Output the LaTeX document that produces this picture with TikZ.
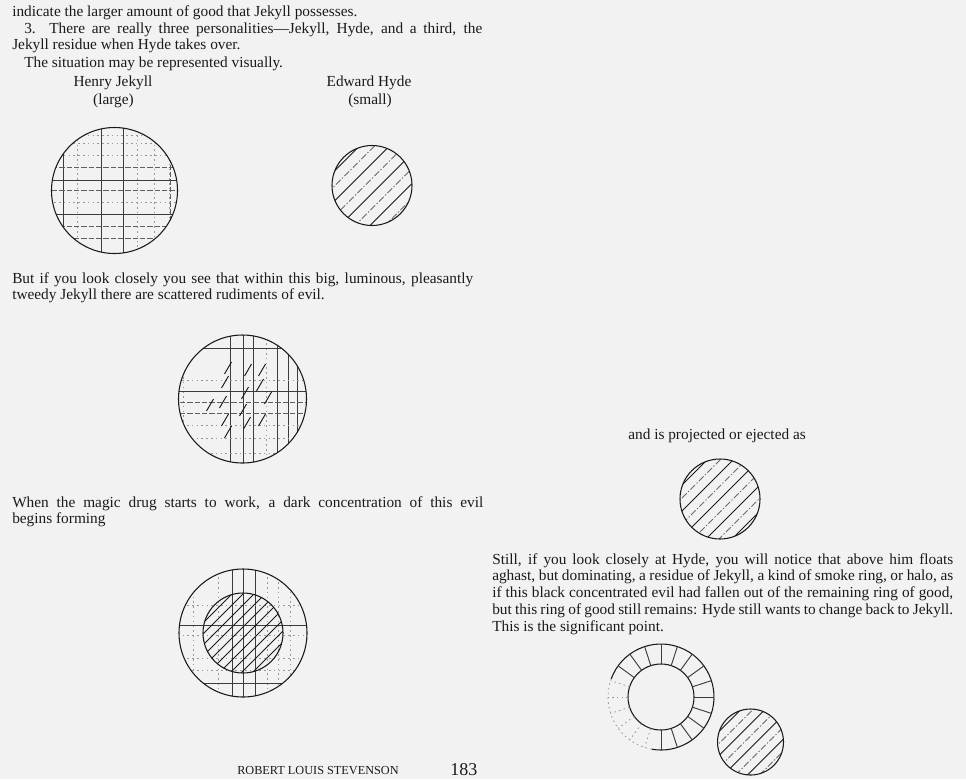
\documentclass[tikz,border=0pt]{standalone}
\usepackage{fontspec}
\setmainfont{Liberation Serif}
\definecolor{paper}{HTML}{F2F2F2}
\definecolor{inkgray}{HTML}{1A1A1A}
\tikzset{
  body/.style={anchor=base west, inner sep=0pt, text=inkgray,
    font=\fontsize{11.5}{12.6}\selectfont},
  para/.style={body, text width=#1, align=justify},
  caption/.style={body, anchor=base},
  rim/.style={line width=0.8pt, inkgray},
  fullrule/.style={line width=0.7pt, inkgray!85},
  dashrule/.style={line width=0.6pt, inkgray!70, dash pattern=on 4pt off 1.5pt},
  dotrule/.style={line width=0.6pt, inkgray!45, dash pattern=on 1.2pt off 2.4pt},
  hatchline/.style={line width=0.7pt, inkgray},
  hatchfaint/.style={line width=0.6pt, inkgray!65, dash pattern=on 5pt off 1.5pt on 1pt off 1.5pt},
}
\begin{document}
\begin{tikzpicture}[x=0.75pt, y=-0.75pt]
    \useasboundingbox (0,0) rectangle (966,779);
    \fill[paper] (0,0) rectangle (966,779);
    % Left column text
    \node[body] (prev) at (12,16) {indicate the larger amount of good that Jekyll possesses.};
    \node[para=352.5pt] (three) at (12,33) {\hspace*{9pt}3. There are really three personalities---Jekyll, Hyde, and a third, the\linebreak Jekyll residue when Hyde takes over.};
    \node[body] (visual) at (24,67) {The situation may be represented visually.};
    \node[caption] (jekyllname) at (113,86) {Henry Jekyll};
    \node[caption] (jekyllsize) at (113.5,104) {(large)};
    \node[caption] (hydename) at (369,86) {Edward Hyde};
    \node[caption] (hydesize) at (370,104) {(small)};
    % Jekyll (large): grid of good
    \begin{scope}[shift={(114.5,190.5)}]
        \def\R{63}
        \begin{scope}
            \clip (0,0) circle (\R);
            \foreach \x in {-37,23,40,55} \draw[dotrule] (\x,-70) -- (\x,70);
            \foreach \x in {-51.5,-13.5,8.5} \draw[fullrule] (\x,-70) -- (\x,70);
            \draw[dashrule] (56,-70) -- (56,70);
            \foreach \y in {-55.5,-47.5,-35.5,11.5} \draw[dotrule] (-70,\y) -- (70,\y);
            \foreach \y in {-23.5,-0.5,35.5,47.5} \draw[dashrule] (-70,\y) -- (70,\y);
            \foreach \y in {-10.5,23.5} \draw[fullrule] (-70,\y) -- (70,\y);
        \end{scope}
        \draw[rim] (0,0) circle (\R);
    \end{scope}
    % Hyde (small): hatched evil
    \begin{scope}[shift={(372,185.5)}]
        \def\R{40}
        \begin{scope}
            \clip (0,0) circle (\R);
            \foreach \d [count=\i] in {-52,-37,...,53} {
                \ifodd\i \draw[hatchline] (\d-50,50) -- (\d+50,-50);
                \else \draw[hatchfaint] (\d-50,50) -- (\d+50,-50); \fi
            }
        \end{scope}
        \draw[rim] (0,0) circle (\R);
    \end{scope}
    \node[para=345.75pt] (closely) at (12,283) {But if you look closely you see that within this big, luminous, pleasantly\linebreak tweedy Jekyll there are scattered rudiments of evil.};
    % Jekyll with rudiments of evil
    \begin{scope}[shift={(242.5,399)}]
        \def\R{64}
        \begin{scope}
            \clip (0,0) circle (\R);
            \foreach \x in {-59.5,23.5} \draw[dotrule] (\x,-70) -- (\x,70);
            \foreach \x in {-12.5,0.5,10.5,34.5,45.5,54.5} \draw[fullrule] (\x,-70) -- (\x,70);
            \foreach \y in {-19,26,39,54} \draw[dotrule] (-70,\y) -- (70,\y);
            \foreach \y in {3,14} \draw[dashrule] (-70,\y) -- (70,\y);
            \foreach \y in {-51,-8} \draw[fullrule] (-70,\y) -- (70,\y);
        \end{scope}
        \draw[rim] (0,0) circle (\R);
        % scattered rudiments
        \foreach \x/\y in {-14.5/-31,5.5/-29,19.5/-29,-17.5/-17,2.5/-6,17.5/-14,
                           -32.5/6,-19.5/3,0.5/11,25.5/-1,-17.5/21,4.5/24,19.5/21,-14.5/33}
            \draw[hatchline] (\x-3.5,\y+6) -- (\x+3.5,\y-6);
    \end{scope}
    \node[para=353.25pt] (drug) at (12,507) {When the magic drug starts to work, a dark concentration of this evil\linebreak begins forming};
    % Evil concentrating inside Jekyll
    \begin{scope}[shift={(243,633)}]
        \def\R{64}
        \def\r{40}
        \begin{scope}
            \clip (0,0) circle (\R);
            \foreach \x in {-50,-25,24,35,47} \draw[dotrule] (\x,-70) -- (\x,70);
            \foreach \x in {-11,0,12} \draw[fullrule] (\x,-70) -- (\x,70);
            \foreach \y in {-28,2,25,37} \draw[dotrule] (-70,\y) -- (70,\y);
            \foreach \y in {-8,50} \draw[fullrule] (-70,\y) -- (70,\y);
        \end{scope}
        \begin{scope}
            \clip (0,0) circle (\r);
            \foreach \d in {-50,-39,...,50} \draw[hatchline] (\d-50,50) -- (\d+50,-50);
        \end{scope}
        \draw[rim] (0,0) circle (\R);
        \draw[rim] (0,0) circle (\r);
    \end{scope}
    % Right column text
    \node[body] (ejected) at (628,439) {and is projected or ejected as};
    % Hyde projected
    \begin{scope}[shift={(720,499)}]
        \def\R{40}
        \begin{scope}
            \clip (0,0) circle (\R);
            \foreach \d [count=\i] in {-52,-39,...,52} {
                \ifodd\i \draw[hatchline] (\d-50,50) -- (\d+50,-50);
                \else \draw[hatchfaint] (\d-50,50) -- (\d+50,-50); \fi
            }
        \end{scope}
        \draw[rim] (0,0) circle (\R);
    \end{scope}
    \node[para=345.75pt] (halo) at (492,564) {Still, if you look closely at Hyde, you will notice that above him floats\linebreak aghast, but dominating, a residue of Jekyll, a kind of smoke ring, or halo, as\linebreak if this black concentrated evil had fallen out of the remaining ring of good,\linebreak but this ring of good still remains: Hyde still wants to change back to Jekyll.\linebreak This is the significant point.};
    % Ring of good (residue of Jekyll)
    \begin{scope}[shift={(661,697)}]
        \def\R{53}
        \def\r{33}
        \draw[rim] (200:\R) arc[start angle=200, end angle=460, radius=\R];
        \draw[dotrule] (100:\R) arc[start angle=100, end angle=200, radius=\R];
        \draw[rim] (0,0) circle (\r);
        \foreach \a in {0,18,...,342} {
            \ifnum\a>99 \ifnum\a<201 \draw[dotrule] (\a:\r) -- (\a:\R);
            \else \draw[fullrule] (\a:\r) -- (\a:\R); \fi
            \else \draw[fullrule] (\a:\r) -- (\a:\R); \fi
        }
    \end{scope}
    % Hyde beside the ring
    \begin{scope}[shift={(750.5,742)}]
        \def\R{33}
        \begin{scope}
            \clip (0,0) circle (\R);
            \foreach \d [count=\i] in {-42,-30,...,42} {
                \ifodd\i \draw[hatchline] (\d-50,50) -- (\d+50,-50);
                \else \draw[hatchfaint] (\d-50,50) -- (\d+50,-50); \fi
            }
        \end{scope}
        \draw[rim] (0,0) circle (\R);
    \end{scope}
    % Footer
    \node[body, font=\fontsize{9.2}{11}\selectfont] (author) at (237,774) {ROBERT LOUIS STEVENSON};
    \node[body, font=\fontsize{13.5}{15}\selectfont] (folio) at (450,775) {183};
\end{tikzpicture}
\end{document}
